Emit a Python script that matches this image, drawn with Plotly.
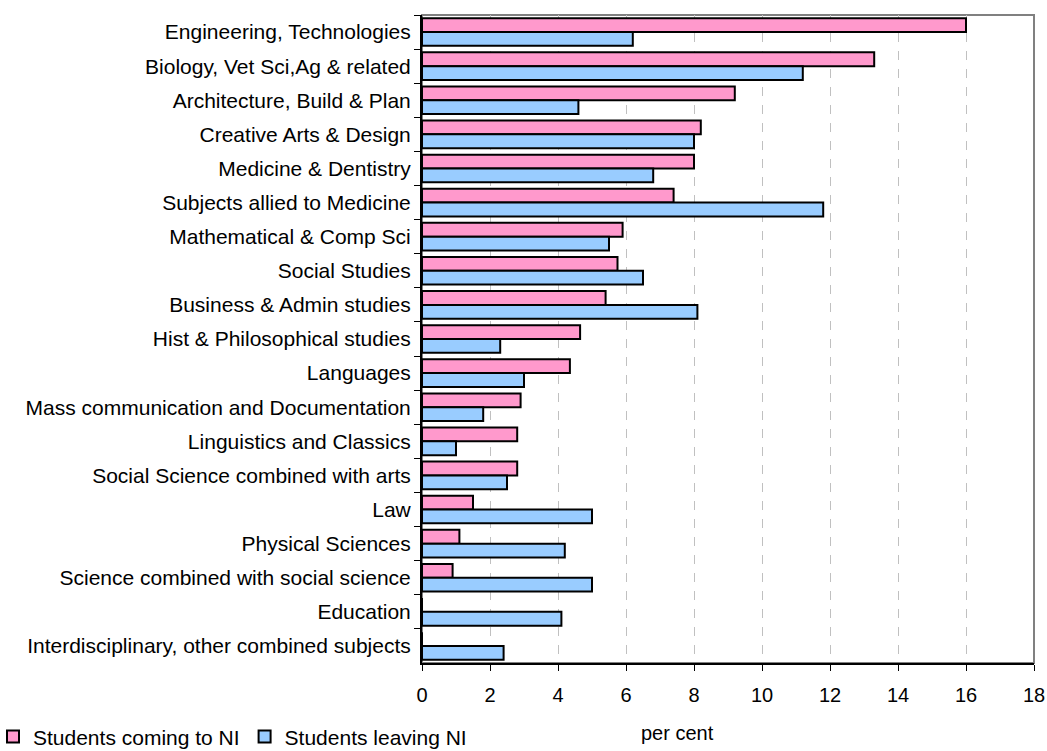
import plotly.graph_objects as go

categories = [
    "Engineering, Technologies",
    "Biology, Vet Sci,Ag & related",
    "Architecture, Build & Plan",
    "Creative Arts & Design",
    "Medicine & Dentistry",
    "Subjects allied to Medicine",
    "Mathematical & Comp Sci",
    "Social Studies",
    "Business & Admin studies",
    "Hist & Philosophical studies",
    "Languages",
    "Mass communication and Documentation",
    "Linguistics and Classics",
    "Social Science combined with arts",
    "Law",
    "Physical Sciences",
    "Science combined with social science",
    "Education",
    "Interdisciplinary, other combined subjects",
]
coming_to_ni = [16.0, 13.3, 9.2, 8.2, 8.0, 7.4, 5.9, 5.75, 5.4, 4.65, 4.35, 2.9, 2.8, 2.8, 1.5, 1.1, 0.9, 0.0, 0.0]
leaving_ni = [6.2, 11.2, 4.6, 8.0, 6.8, 11.8, 5.5, 6.5, 8.1, 2.3, 3.0, 1.8, 1.0, 2.5, 5.0, 4.2, 5.0, 4.1, 2.4]
x_ticks = [0, 2, 4, 6, 8, 10, 12, 14, 16, 18]
x_title = "per cent"

FONT = "Arial, Liberation Sans, sans-serif"

fig = go.Figure()
fig.add_trace(go.Bar(
    y=categories, x=coming_to_ni, orientation="h", name="Students coming to NI",
    marker=dict(color="#FF99CC", line=dict(color="black", width=2)),
))
fig.add_trace(go.Bar(
    y=categories, x=leaving_ni, orientation="h", name="Students leaving NI",
    marker=dict(color="#99CCFF", line=dict(color="black", width=2)),
))

fig.update_layout(
    width=1047, height=751,
    margin=dict(l=422, r=13, t=15, b=88, autoexpand=False),
    paper_bgcolor="white", plot_bgcolor="white",
    barmode="group", bargap=0.19, bargroupgap=0,
    font=dict(family=FONT, size=21, color="black"),
    showlegend=True,
    legend=dict(orientation="h", xref="paper", yref="paper",
                x=-0.701, y=-0.114, xanchor="left", yanchor="middle",
                font=dict(size=21), itemwidth=30, tracegroupgap=0,
                borderwidth=0, bgcolor="rgba(0,0,0,0)"),
    shapes=[dict(type="rect", xref="paper", yref="paper", x0=0, x1=1, y0=0, y1=1,
                 line=dict(color="#808080", width=2), layer="below")],
    annotations=[dict(text=x_title, xref="paper", yref="paper",
                      x=0.418, y=-0.108, xanchor="center", yanchor="middle",
                      showarrow=False, font=dict(size=20))],
)
fig.update_xaxes(
    range=[0, 18], tickvals=x_ticks, ticktext=[str(v) for v in x_ticks],
    showgrid=True, gridcolor="#C0C0C0", griddash="dash", gridwidth=1,
    showline=True, linecolor="black", linewidth=2,
    ticks="outside", ticklen=6, tickcolor="black", tickwidth=1,
    ticklabelstandoff=7, tickfont=dict(size=20),
    zeroline=False,
)
fig.update_yaxes(
    autorange="reversed", categoryorder="array", categoryarray=categories,
    showline=True, linecolor="black", linewidth=2,
    ticks="outside", ticklen=6, tickcolor="black", tickson="boundaries",
    ticklabelstandoff=5,
    showgrid=False,
)

fig.write_html(
    "out.html",
    config={"displayModeBar": False},
    post_script="document.body.style.margin='0px';document.body.style.overflow='hidden';",
)
